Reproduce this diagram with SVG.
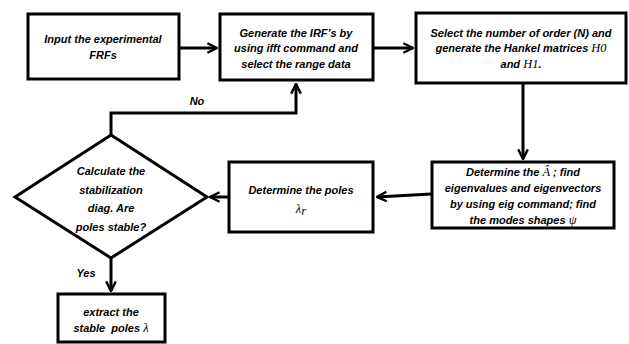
<svg xmlns="http://www.w3.org/2000/svg" width="629" height="344" viewBox="0 0 629 344">
<defs>
<marker id="arr" viewBox="0 0 10 10" refX="9" refY="5" markerWidth="4" markerHeight="4" orient="auto" markerUnits="strokeWidth">
<path d="M1,1 L9,5 L1,9" fill="none" stroke="#000" stroke-width="2"/>
</marker>
</defs>
<style>
.box{fill:#fff;stroke:#000;stroke-width:3}
.t{font-family:"Liberation Sans",Arial,sans-serif;font-weight:bold;font-style:italic;font-size:11px;fill:#000;text-anchor:middle}
.m{font-family:"Liberation Serif","Times New Roman",serif;font-style:italic;font-weight:normal;font-size:12.5px}
.c{fill:none;stroke:#000;stroke-width:3;marker-end:url(#arr)}
</style>
<rect width="629" height="344" fill="#fff"/>
<g id="connectors">
<path class="c" d="M179,48 L217,48"/>
<path class="c" d="M374,48 L413,48"/>
<path class="c" d="M523,84 L523,159"/>
<path class="c" d="M431,194 L377,197"/>
<path class="c" d="M228,197 L210,197"/>
<path class="c" d="M111,135 L111,113 L296,113 L296,84"/>
<path class="c" d="M111,259 L111,291"/>
</g>
<g id="n1"><rect class="box" x="28" y="14" width="151" height="65"/>
<text class="t" x="103" y="43">Input the experimental</text><text class="t" x="103" y="59">FRFs</text></g>
<g id="n2"><rect class="box" x="220" y="14" width="153" height="66"/>
<text class="t" x="296" y="37">Generate the IRF’s by</text><text class="t" x="296" y="52">using ifft command and</text><text class="t" x="296" y="68">select the range data</text></g>
<g id="n3"><rect class="box" x="416" y="13" width="210" height="70"/>
<text class="t" x="521" y="37">Select the number of order (N) and</text><text class="t" x="521" y="52">generate the Hankel matrices <tspan class="m">H0</tspan></text><text class="t" x="521" y="68">and <tspan class="m">H1</tspan>.</text></g>
<g id="n4"><rect class="box" x="432" y="162" width="182" height="66"/>
<text class="t" x="523" y="176">Determine the <tspan class="m" font-style="normal">Â</tspan> ; find</text><text class="t" x="523" y="192">eigenvalues and eigenvectors</text><text class="t" x="523" y="208">by using eig command; find</text><text class="t" x="523" y="224">the modes shapes <tspan class="m">ψ</tspan></text></g>
<g id="n5"><rect class="box" x="229" y="162" width="144" height="70"/>
<text class="t" x="301" y="194">Determine the poles</text><text class="t" x="301" y="213"><tspan class="m">λ</tspan><tspan class="m" font-size="8" dy="2">r</tspan></text></g>
<g id="n6"><path class="box" d="M111,135 L207,197 L111,258 L15,197 Z"/>
<text class="t" x="111" y="175">Calculate the</text><text class="t" x="111" y="194">stabilization</text><text class="t" x="111" y="212">diag. Are</text><text class="t" x="111" y="231">poles stable?</text></g>
<g id="n7"><rect class="box" x="58" y="294" width="107" height="48"/>
<text class="t" x="111" y="316">extract the</text><text class="t" x="111" y="332">stable&#160; poles <tspan class="m">λ</tspan></text></g>
<rect x="172" y="92" width="48" height="18" fill="#fff"/>
<text class="t" x="197" y="105">No</text>
<text class="t" x="86" y="277">Yes</text>
</svg>
